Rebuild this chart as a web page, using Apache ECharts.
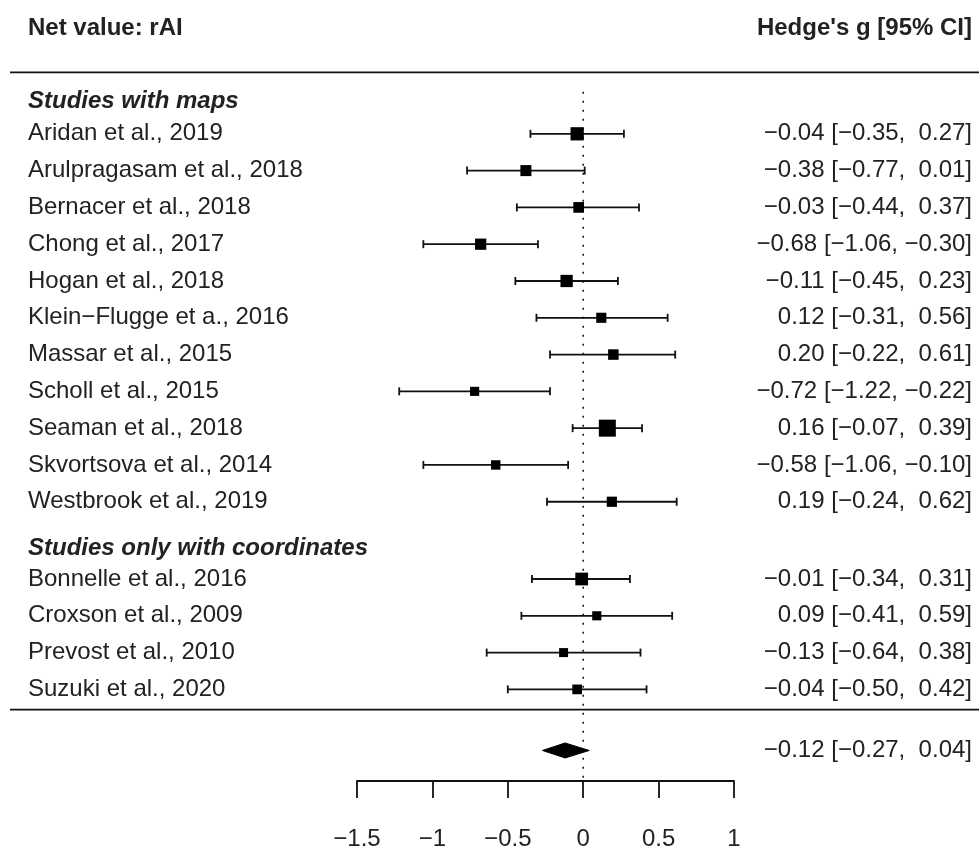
<!DOCTYPE html>
<html>
<head>
<meta charset="utf-8">
<title>Net value: rAI – forest plot</title>
<script src="https://cdn.jsdelivr.net/npm/echarts@6/dist/echarts.min.js"></script>
<style>
  html, body { margin: 0; padding: 0; background: #ffffff; }
  #chart { width: 979px; height: 851px; }
</style>
</head>
<body>
<div id="chart"></div>
<script>
// ---- Data -------------------------------------------------------------
// Studies with whole-brain maps
const mapStudies = [
  'Aridan et al., 2019',
  'Arulpragasam et al., 2018',
  'Bernacer et al., 2018',
  'Chong et al., 2017',
  'Hogan et al., 2018',
  'Klein\u2212Flugge et a., 2016',
  'Massar et al., 2015',
  'Scholl et al., 2015',
  'Seaman et al., 2018',
  'Skvortsova et al., 2014',
  'Westbrook et al., 2019'
];
const mapEstimate = [-0.04, -0.38, -0.03, -0.68, -0.11, 0.12, 0.20, -0.72, 0.16, -0.58, 0.19];
const mapLower    = [-0.35, -0.77, -0.44, -1.06, -0.45, -0.31, -0.22, -1.22, -0.07, -1.06, -0.24];
const mapUpper    = [ 0.27,  0.01,  0.37, -0.30,  0.23,  0.56,  0.61, -0.22,  0.39, -0.10,  0.62];

// Studies reporting peak coordinates only
const coordStudies = [
  'Bonnelle et al., 2016',
  'Croxson et al., 2009',
  'Prevost et al., 2010',
  'Suzuki et al., 2020'
];
const coordEstimate = [-0.01, 0.09, -0.13, -0.04];
const coordLower    = [-0.34, -0.41, -0.64, -0.50];
const coordUpper    = [ 0.31,  0.59,  0.38,  0.42];

// Pooled random-effects estimate
const pooledEstimate = -0.12;
const pooledLower = -0.27;
const pooledUpper = 0.04;

// Axis ticks and headings
const xTicks = [-1.5, -1, -0.5, 0, 0.5, 1];
const groupTitles = ['Studies with maps', 'Studies only with coordinates'];
const leftHeading = 'Net value: rAI';
const rightHeading = "Hedge's g [95% CI]";

// ---- Layout (row units on the vertical axis, top to bottom) -----------
const ROW_TOP = -1.68;
const ROW_BOTTOM = 17.59;
const mapRowStart = 0;
const coordRowStart = 12.1;
const groupTitleRows = [-0.87, 11.27];
const ruleRows = [-1.67, 15.65];
const pooledRow = 16.76;
const refLineRows = [-1.14, 17.53];

const FONT = "'Liberation Sans', Arial, Helvetica, sans-serif";
const TEXT_COLOR = '#222222';
const INK = '#111111';
const LEFT_X = 28;
const RIGHT_X = 972;

const MINUS = '\u2212';
function fmt(v) {
  const s = Math.abs(v).toFixed(2);
  return (v < 0 ? MINUS : ' ') + s;
}
function ciText(e, l, u) {
  return fmt(e).trim() + ' [' + fmt(l) + ', ' + fmt(u) + ']';
}

// Assemble rows for the study series
const rows = [];
mapStudies.forEach((name, i) => {
  rows.push({ name, est: mapEstimate[i], lo: mapLower[i], hi: mapUpper[i], row: mapRowStart + i });
});
coordStudies.forEach((name, i) => {
  rows.push({ name, est: coordEstimate[i], lo: coordLower[i], hi: coordUpper[i], row: coordRowStart + i });
});

// Marker size follows the inverse standard error (as in metafor's default)
const invSe = rows.map(r => 3.92 / (r.hi - r.lo));
const wMin = Math.min.apply(null, invSe);
const wMax = Math.max.apply(null, invSe);
const SIZE_MIN = 9, SIZE_MAX = 17;
rows.forEach((r, i) => {
  r.size = SIZE_MIN + (invSe[i] - wMin) / (wMax - wMin) * (SIZE_MAX - SIZE_MIN);
});

const studyData = rows.map((r, i) => [r.est, r.row, r.lo, r.hi, r.size, i]);

const chart = echarts.init(document.getElementById('chart'), null, { renderer: 'canvas' });

function textEl(x, y, text, align, weight, style) {
  return {
    type: 'text',
    x: x,
    y: y,
    style: {
      text: text,
      fill: TEXT_COLOR,
      fontFamily: FONT,
      fontSize: 24,
      fontWeight: weight || 'normal',
      fontStyle: style || 'normal',
      align: align,
      verticalAlign: 'middle'
    },
    silent: true
  };
}

function renderStudy(params, api) {
  const est = api.value(0);
  const row = api.value(1);
  const lo = api.value(2);
  const hi = api.value(3);
  const size = api.value(4);
  const r = rows[api.value(5)];
  const pe = api.coord([est, row]);
  const pl = api.coord([lo, row]);
  const ph = api.coord([hi, row]);
  const y = pe[1];
  const cap = 4;
  const lineStyle = { stroke: INK, lineWidth: 1.8 };
  return {
    type: 'group',
    children: [
      { type: 'line', shape: { x1: pl[0], y1: y, x2: ph[0], y2: y }, style: lineStyle },
      { type: 'line', shape: { x1: pl[0], y1: y - cap, x2: pl[0], y2: y + cap }, style: lineStyle },
      { type: 'line', shape: { x1: ph[0], y1: y - cap, x2: ph[0], y2: y + cap }, style: lineStyle },
      { type: 'rect', shape: { x: pe[0] - size / 2, y: y - size / 2, width: size, height: size }, style: { fill: '#000' } },
      textEl(LEFT_X, y, r.name, 'left'),
      textEl(RIGHT_X, y, ciText(r.est, r.lo, r.hi), 'right')
    ]
  };
}

function renderPooled(params, api) {
  const row = api.value(1);
  const pe = api.coord([api.value(0), row]);
  const pl = api.coord([api.value(2), row]);
  const ph = api.coord([api.value(3), row]);
  const h = 7.5;
  return {
    type: 'group',
    children: [
      {
        type: 'polygon',
        shape: { points: [[pl[0], pe[1]], [pe[0], pe[1] - h], [ph[0], pe[1]], [pe[0], pe[1] + h]] },
        style: { fill: '#000', stroke: '#000', lineWidth: 1 }
      },
      textEl(RIGHT_X, pe[1], ciText(api.value(0), api.value(2), api.value(3)), 'right')
    ]
  };
}

function renderRule(params, api) {
  const y = api.coord([0, api.value(0)])[1];
  return {
    type: 'line',
    shape: { x1: 10, y1: y, x2: 979, y2: y },
    style: { stroke: INK, lineWidth: 1.8 }
  };
}

function renderGroupTitle(params, api) {
  const y = api.coord([0, api.value(0)])[1];
  return textEl(LEFT_X, y, groupTitles[api.value(1)], 'left', 'bold', 'italic');
}

function renderRefLine(params, api) {
  const p1 = api.coord([0, api.value(0)]);
  const p2 = api.coord([0, api.value(1)]);
  return {
    type: 'line',
    shape: { x1: p1[0], y1: p1[1], x2: p2[0], y2: p2[1] },
    style: { stroke: INK, lineWidth: 1.5, lineDash: [2, 7] }
  };
}

const option = {
  animation: false,
  backgroundColor: '#ffffff',
  grid: { left: 357, width: 377, top: 72, height: 711, containLabel: false },
  xAxis: {
    type: 'value',
    min: xTicks[0],
    max: xTicks[xTicks.length - 1],
    interval: 0.5,
    position: 'bottom',
    splitLine: { show: false },
    axisLine: { show: true, onZero: false, lineStyle: { color: INK, width: 1.8 } },
    axisTick: { show: true, length: 17, lineStyle: { color: INK, width: 1.8 } },
    axisLabel: {
      show: true,
      margin: 46,
      fontFamily: FONT,
      fontSize: 24,
      color: TEXT_COLOR,
      formatter: v => (xTicks.indexOf(v) >= 0 ? String(v).replace('-', MINUS) : '')
    }
  },
  yAxis: {
    type: 'value',
    inverse: true,
    min: ROW_TOP,
    max: ROW_BOTTOM,
    show: false
  },
  graphic: [
    {
      type: 'text', left: 28, top: 16,
      style: { text: leftHeading, fontFamily: FONT, fontSize: 24, fontWeight: 'bold', fill: TEXT_COLOR }
    },
    {
      type: 'text', right: 7, top: 16,
      style: { text: rightHeading, fontFamily: FONT, fontSize: 24, fontWeight: 'bold', fill: TEXT_COLOR }
    }
  ],
  series: [
    { type: 'custom', name: 'rules', renderItem: renderRule, data: ruleRows.map(r => [r]), clip: false, silent: true },
    { type: 'custom', name: 'reference', renderItem: renderRefLine, data: [refLineRows], clip: false, silent: true },
    { type: 'custom', name: 'groups', renderItem: renderGroupTitle, data: groupTitleRows.map((r, i) => [r, i]), clip: false, silent: true },
    { type: 'custom', name: 'studies', renderItem: renderStudy, data: studyData, clip: false, silent: true, z: 3 },
    {
      type: 'custom', name: 'pooled', renderItem: renderPooled,
      data: [[pooledEstimate, pooledRow, pooledLower, pooledUpper]], clip: false, silent: true, z: 3
    }
  ]
};

chart.setOption(option);
</script>
</body>
</html>
